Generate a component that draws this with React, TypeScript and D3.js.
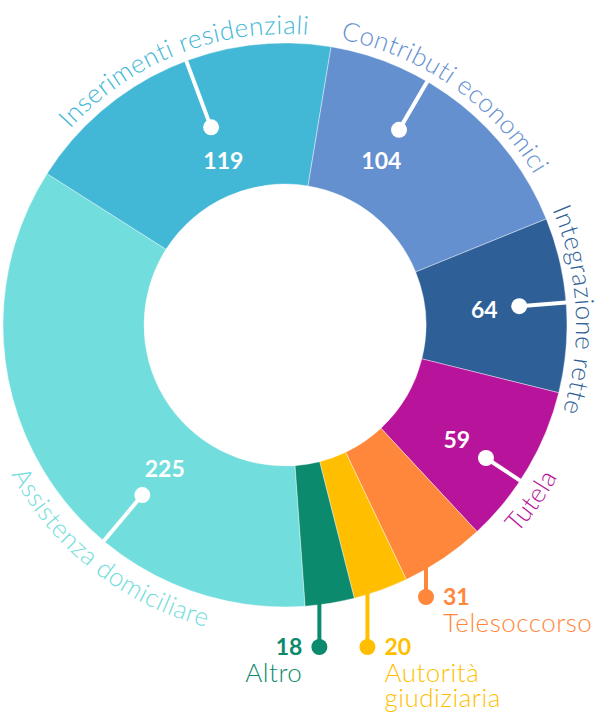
import React from "react";
import * as d3 from "d3";

const categories = [
  "Assistenza domiciliare",
  "Inserimenti residenziali",
  "Contributi economici",
  "Integrazione rette",
  "Tutela",
  "Telesoccorso",
  "Autorità giudiziaria",
  "Altro",
];
const values = [225, 119, 104, 64, 59, 31, 20, 18];
const colors = ["#72dddd", "#42b8d6", "#6490d0", "#2e5f96", "#b8139b", "#ff873c", "#ffbf00", "#0c8a6d"];

// callout layout: angle in degrees (clockwise from 12 o'clock)
const callouts = [
  { at: 220, textAt: 218, dotR: 222 },
  { at: 339.5, textAt: 338.5, dotR: 211 },
  { at: 30.3, textAt: 35, dotR: 226 },
  { at: 85.4, textAt: 87, dotR: 235 },
  { at: 123.5, textAt: 125.5, dotR: 241 },
  { at: 150, dotY: 597, side: "start", lines: ["Telesoccorso"] },
  { at: 163, dotY: 647, side: "start", lines: ["Autorità", "giudiziaria"] },
  { at: 173, dotY: 647, side: "end", lines: ["Altro"] },
];

const W = 612;
const H = 717;
const cx = 285;
const cy = 325;
const outerR = 282;
const innerR = 141;
const rad = Math.PI / 180;
const FONT = "Lato, 'Open Sans', sans-serif";

const pt = (r: number, deg: number) => [cx + r * Math.sin(deg * rad), cy - r * Math.cos(deg * rad)];

function labelPath(r: number, deg: number, cw: boolean) {
  const [x0, y0] = pt(r, deg - 90);
  const [x1, y1] = pt(r, deg + 90);
  return cw
    ? `M${x0},${y0} A${r},${r} 0 0 1 ${x1},${y1}`
    : `M${x1},${y1} A${r},${r} 0 0 0 ${x0},${y0}`;
}

export default function App() {
  const start = 175.9 * rad;
  const pie = d3.pie<number>().sort(null).startAngle(start).endAngle(start + 2 * Math.PI);
  const arcs = pie(values);
  const arc = d3.arc<d3.PieArcDatum<number>>().innerRadius(innerR).outerRadius(outerR);

  return (
    <svg width={W} height={H} style={{ position: "absolute", left: 0, top: 0 }} fontFamily={FONT}>
      <g>
        {arcs.map((a, i) => (
          <path key={i} d={arc(a) || ""} transform={`translate(${cx},${cy})`} fill={colors[i]} stroke="#fff" strokeWidth={0.4} />
        ))}
      </g>
      {callouts.map((c, i) => {
        if (c.dotR !== undefined) {
          const [dx, dy] = pt(c.dotR, c.at);
          const [ex, ey] = pt(outerR, c.at);
          const [nx, ny] = pt(c.dotR - 35, c.at);
          const t = c.textAt;
          const cw = t < 110 || t > 290;
          const id = `lp${i}`;
          return (
            <g key={i}>
              <line x1={dx} y1={dy} x2={ex} y2={ey} stroke="#fff" strokeWidth={4} />
              <circle cx={dx} cy={dy} r={8} fill="#fff" />
              <text x={nx} y={ny} fill="#fff" fontSize={23} fontWeight={700} textAnchor="middle" dominantBaseline="central">
                {values[i]}
              </text>
              <path id={id} d={labelPath(cw ? 291 : 312, t, cw)} fill="none" />
              <text fill={colors[i]} fontSize={26} fontWeight={300} letterSpacing={0.5}>
                <textPath href={`#${id}`} startOffset="50%" textAnchor="middle">
                  {categories[i]}
                </textPath>
              </text>
            </g>
          );
        }
        const [lx, ly] = pt(outerR, c.at);
        const off = c.side === "end" ? -17 : 17;
        return (
          <g key={i}>
            <line x1={lx} y1={ly - 2} x2={lx} y2={c.dotY} stroke={colors[i]} strokeWidth={4} />
            <circle cx={lx} cy={c.dotY} r={8} fill={colors[i]} />
            <text x={lx + off} y={c.dotY + 8} fill={colors[i]} fontSize={23} fontWeight={700} textAnchor={c.side}>
              {values[i]}
            </text>
            {c.lines!.map((s, k) => (
              <text key={k} x={lx + off} y={c.dotY + 35 + k * 25} fill={colors[i]} fontSize={26} fontWeight={300} letterSpacing={0.5} textAnchor={c.side}>
                {s}
              </text>
            ))}
          </g>
        );
      })}
    </svg>
  );
}
